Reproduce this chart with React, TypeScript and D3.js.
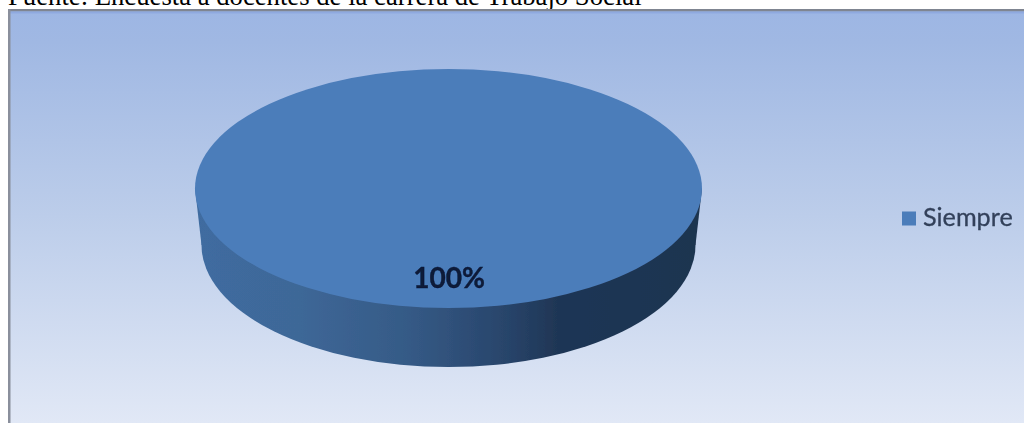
import React from "react";
import * as d3 from "d3";

const categories = ["Siempre"];
const seriesValues = [100];
const sourceText = "Fuente: Encuesta a docentes de la carrera de Trabajo Social";

const W = 1024, H = 423;
const top = { cx: 448.5, cy: 188.5, rx: 253.5, ry: 119.5 };
const bottom = { cx: 448.5, cy: 245, rx: 247, ry: 122 };

const color = d3.scaleOrdinal<string, string>().domain(categories).range(["#4c7dba"]);
const total = d3.sum(seriesValues);
const fmt = d3.format(".0%");

export default function App() {
  const slices = d3.pie<number>().sort(null)(seriesValues);
  const arc = d3.arc<d3.PieArcDatum<number>>().innerRadius(0).outerRadius(1);
  return (
    <svg width={W} height={H} viewBox={`0 0 ${W} ${H}`}
      style={{ position: "fixed", left: 0, top: 0, display: "block", background: "#fff" }}>
      <defs>
        <linearGradient id="bg" x1="0" y1="0" x2="0" y2="1">
          <stop offset="0" stopColor="#9db6e4" />
          <stop offset="0.08" stopColor="#a0b8e3" />
          <stop offset="0.5" stopColor="#bccdea" />
          <stop offset="1" stopColor="#e1e8f6" />
        </linearGradient>
        <linearGradient id="side" x1="0" y1="0" x2="1" y2="0">
          <stop offset="0" stopColor="#3f6ca0" />
          <stop offset="0.2" stopColor="#3e6797" />
          <stop offset="0.42" stopColor="#355a86" />
          <stop offset="0.62" stopColor="#28446a" />
          <stop offset="0.72" stopColor="#1f3655" />
          <stop offset="1" stopColor="#1e3450" />
        </linearGradient>
        <filter id="soft" x="-5%" y="-20%" width="110%" height="140%">
          <feGaussianBlur stdDeviation="0.6" />
        </filter>
        <filter id="softText" x="-5%" y="-20%" width="110%" height="140%">
          <feGaussianBlur stdDeviation="0.45" />
        </filter>
      </defs>

      <text x={8} y={4.5} fontFamily="'Liberation Serif', serif" fontSize={26.7} fill="#000">{sourceText}</text>

      <rect x={8} y={9} width={W - 8} height={H - 9} fill="url(#bg)" />
      <rect x={8} y={9} width={W - 8} height={2.5} fill="#7f8591" />
      <rect x={8} y={11.5} width={W - 8} height={2} fill="#8fa9df" />
      <rect x={8} y={9} width={2.5} height={H - 9} fill="#8a8f9c" />

      <g filter="url(#soft)">
        <path
          d={`M${top.cx - top.rx},${top.cy}L${bottom.cx - bottom.rx},${bottom.cy}L${bottom.cx + bottom.rx},${bottom.cy}L${top.cx + top.rx},${top.cy}Z`}
          fill="url(#side)" />
        {slices.map((s, i) => (
          <path key={"b" + i} d={arc(s) as string} fill="url(#side)"
            transform={`translate(${bottom.cx},${bottom.cy}) scale(${bottom.rx},${bottom.ry})`} />
        ))}
        {slices.map((s, i) => (
          <path key={"t" + i} d={arc(s) as string} fill={color(categories[i])}
            transform={`translate(${top.cx},${top.cy}) scale(${top.rx},${top.ry})`} />
        ))}
      </g>

      <g filter="url(#softText)">
        {seriesValues.map((v, i) => (
          <text key={i} x={449} y={288} textAnchor="middle" fontFamily="Lato, sans-serif"
            fontWeight={700} fontSize={28} fill="#0b1a38" stroke="#0b1a38" strokeWidth={0.4}>{fmt(v / total)}</text>
        ))}

        {categories.map((c, i) => (
          <g key={c}>
            <rect x={902} y={211.5} width={14} height={14} fill={color(c)} />
            <text x={923} y={226} fontFamily="Lato, sans-serif" fontSize={25.2} fill="#33415a" stroke="#33415a" strokeWidth={0.3}>{c}</text>
          </g>
        ))}
      </g>
    </svg>
  );
}
